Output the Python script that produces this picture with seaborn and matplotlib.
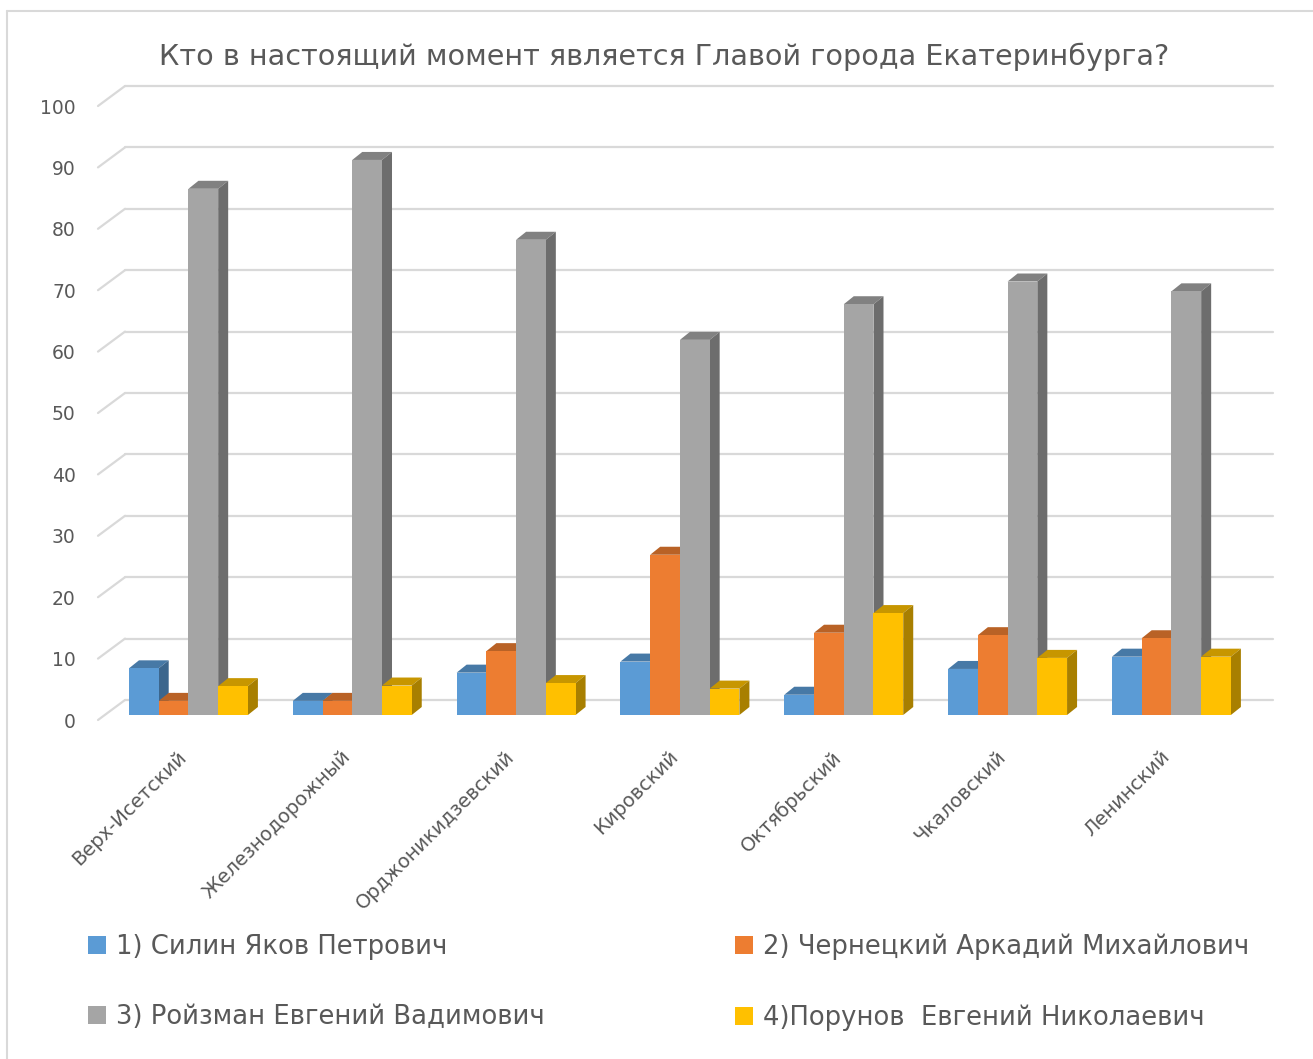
import numpy as np
import pandas as pd
import seaborn as sns
import matplotlib.pyplot as plt
import matplotlib.colors as mcolors
from matplotlib.patches import Polygon, Patch
from matplotlib.lines import Line2D
from matplotlib.transforms import ScaledTranslation

# Data (percent)
districts = ["Верх-Исетский", "Железнодорожный", "Орджоникидзевский", "Кировский",
             "Октябрьский", "Чкаловский", "Ленинский"]
candidates = ["1) Силин Яков Петрович", "2) Чернецкий Аркадий Михайлович",
              "3) Ройзман Евгений Вадимович", "4)Порунов  Евгений Николаевич"]
silin = [7.6, 2.3, 6.9, 8.7, 3.3, 7.5, 9.5]
chernetsky = [2.3, 2.3, 10.4, 26.1, 13.4, 13.0, 12.5]
roizman = [85.7, 90.4, 77.4, 61.1, 66.9, 70.6, 69.0]
porunov = [4.7, 4.8, 5.2, 4.3, 16.6, 9.3, 9.5]
yticks = list(range(0, 101, 10))
title = "Кто в настоящий момент является Главой города Екатеринбурга?"

colors = ["#5B9BD5", "#ED7D31", "#A5A5A5", "#FFC000"]
text_color = "#595959"
grid_color = "#D9D9D9"

df = pd.DataFrame({
    "district": districts * 4,
    "candidate": [c for c in candidates for _ in districts],
    "value": silin + chernetsky + roizman + porunov,
})

sns.set_theme(style="white")
plt.rcParams["font.family"] = ["DejaVu Sans"]

W, H = 1313, 1059
fig = plt.figure(figsize=(W / 100, H / 100), dpi=100)
fig.patch.set_facecolor("white")

# plot area in pixels (front plane of the bars)
left_px, right_px, bottom_px, top_px = 98, 1273, 715, 101
ax = fig.add_axes([left_px / W, 1 - bottom_px / H,
                   (right_px - left_px) / W, (bottom_px - top_px) / H])
ax.patch.set_alpha(0)

sns.barplot(data=df, x="district", y="value", hue="candidate",
            order=districts, hue_order=candidates, palette=colors,
            width=0.726, saturation=1, errorbar=None, legend=False, ax=ax)

xmin, xmax = -0.552, 6.62
ax.set_xlim(xmin, xmax)
ax.set_ylim(0, 100)
px_x = (right_px - left_px) / (xmax - xmin)
px_y = (bottom_px - top_px) / 100

# fake 3D: top and side faces of every bar
dx, dy = 10 / px_x, 8 / px_y
n_hue = len(candidates)
for i, cont in enumerate(ax.containers):
    base = np.array(mcolors.to_rgb(colors[i]))
    top_c = tuple(base * 0.78)
    side_c = tuple(base * 0.66)
    for j, bar in enumerate(cont):
        k = j * n_hue + i
        x0 = bar.get_x()
        x1 = x0 + bar.get_width()
        h = bar.get_height()
        bar.set_edgecolor("none")
        bar.set_linewidth(0)
        bar.set_zorder(3 + k * 0.02 + 0.01)
        ax.add_patch(Polygon([(x0, h), (x1, h), (x1 + dx, h + dy), (x0 + dx, h + dy)],
                             closed=True, fc=top_c, ec="none", zorder=3 + k * 0.02,
                             clip_on=False))
        ax.add_patch(Polygon([(x1, 0), (x1 + dx, dy), (x1 + dx, h + dy), (x1, h)],
                             closed=True, fc=side_c, ec="none", zorder=3 + k * 0.02,
                             clip_on=False))

# back wall gridlines and the little diagonals to the front
back_dy = 15 / px_y
front_dy = -5 / px_y
wall_x = xmin + 27 / px_x
for v in yticks:
    ax.plot([wall_x, xmax], [v + back_dy, v + back_dy], color=grid_color,
            lw=1.6, zorder=1, clip_on=False)
    ax.plot([xmin, wall_x], [v + front_dy, v + back_dy], color=grid_color,
            lw=1.6, zorder=1, clip_on=False)

for s in ax.spines.values():
    s.set_visible(False)
ax.set_xlabel("")
ax.set_ylabel("")
ax.set_yticks(yticks)
ax.set_yticklabels([str(v) for v in yticks])
ax.tick_params(axis="y", length=0, pad=16, labelsize=13.5, labelcolor=text_color)
for lab in ax.get_yticklabels():
    lab.set_transform(lab.get_transform() + ScaledTranslation(0, -0.05, fig.dpi_scale_trans))

ax.set_xticks(range(len(districts)))
ax.set_xticklabels(districts, rotation=45, ha="right", va="center",
                   rotation_mode="anchor", fontsize=14, color=text_color)
ax.tick_params(axis="x", length=0, pad=28)
for lab in ax.get_xticklabels():
    lab.set_transform(lab.get_transform() + ScaledTranslation(-0.05, 0, fig.dpi_scale_trans))

fig.text(664 / W, 1 - 57 / H, title, ha="center", va="center",
         fontsize=20.6, color=text_color)

# legend, two columns placed like the original
handles = [Patch(facecolor=c, edgecolor="none") for c in colors]
leg_kw = dict(loc="center left", frameon=False, fontsize=18.6, handlelength=0.7,
              handleheight=0.7, handletextpad=0.4, labelspacing=1.72,
              borderpad=0, borderaxespad=0, labelcolor=text_color)
fig.legend([handles[0], handles[2]], [candidates[0], candidates[2]],
           bbox_to_anchor=(88 / W, 1 - 982 / H), **leg_kw)
fig.legend([handles[1], handles[3]], [candidates[1], candidates[3]],
           bbox_to_anchor=(735 / W, 1 - 982 / H), **leg_kw)

# chart frame (top and left edges visible)
fig.add_artist(Line2D([7 / W, 1], [1 - 11 / H, 1 - 11 / H], color=grid_color, lw=1.5))
fig.add_artist(Line2D([7 / W, 7 / W], [0, 1 - 11 / H], color=grid_color, lw=1.5))

fig.savefig("out.png", dpi=100)
